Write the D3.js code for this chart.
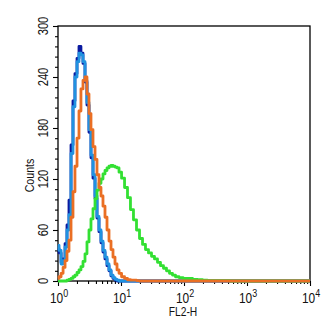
<!DOCTYPE html>
<html><head><meta charset="utf-8">
<script src="https://cdn.jsdelivr.net/npm/d3@7"></script>
<style>body{margin:0;background:#fff}svg{display:block}text{font-family:"Liberation Sans",Arial,sans-serif;fill:#111}</style>
</head><body>
<svg id="c" width="336" height="334"></svg>
<script>
// FL2-H channel values (bin positions)
const fl2 = [1.00,1.08,1.16,1.25,1.34,1.44,1.55,1.67,1.79,1.93,2.08,2.23,2.40,2.59,2.78,2.99,3.22,3.46,3.73,4.01,4.31,4.64,4.99,5.37,5.78,6.22,6.69,7.20,7.74,8.33,8.97,9.65,10.8,12.0,13.4,14.9,16.7,18.6,20.8,23.2,25.8,28.9,32.2,35.9,40.1,44.7,49.9,55.7,62.1,69.3,77.3,89.5,104,125,149,179,215,257,1100,10000];
const darkBlue  = [38,33,22,26,44,66,95,160,212,244,262,276,268,256,234,207,175,145,121,97,74,58,45,34,26,18,12,6,3,1,0,0,0,0,0,0,0,0,0,0,0,0,0,0,0,0,0,0,0,0,0,0,0,0,0,0,0,0,0,0];
const lightBlue = [42,36,20,24,40,60,78,150,205,240,258,268,266,258,236,210,178,148,125,100,76,60,47,36,28,20,13,7,4,2,1,0,0,0,0,0,0,0,0,0,0,0,0,0,0,0,0,0,0,0,0,0,0,0,0,0,0,0,0,0];
const orange    = [3,5,9,16,24,35,48,75,105,135,168,200,226,236,240,220,197,178,158,143,125,110,100,88,75,60,47,37,28,20,13,9,5,3,1.5,1,1,0.5,0,0,0,0,0,0,0,0,0,0,0,0,0,0,0,0,0,0,0,0,0,0];
const green     = [0,0,0,0,0,1,2,3,5,7,10,13,17,23,32,46,60,73,85,97,107,115,120,126,130,133,135,136,135,134,133,128,121,110,98,84,72,60,50,43,37,33,29,26,22,18,15,12,9,7,5,4,3,3,2,1.5,1,0.5,0,0];
const yTicks = [0,60,120,180,240,300];
const xTicks = [0,1,2,3,4];

const svg = d3.select("#c");
const L=58, R=310, T=26, B=281;
const x = d3.scaleLog().domain([1,10000]).range([L,R]);
const y = d3.scaleLinear().domain([0,300]).range([B,T]);

// frame
svg.append("rect").attr("x",L).attr("y",T).attr("width",R-L).attr("height",B-T)
  .attr("fill","none").attr("stroke","#000").attr("stroke-width",1.3);

// y axis ticks
const yAx = svg.append("g").attr("transform",`translate(${L},0)`);
yAx.call(d3.axisLeft(y).tickValues(d3.range(0,301,12)).tickSize(3).tickFormat(""));
yAx.select(".domain").remove();
yAx.selectAll(".tick").filter(d=>yTicks.includes(d)).select("line").attr("x2",-5);
yAx.selectAll("line").attr("stroke","#000").attr("stroke-width",1.1);
yTicks.forEach(v=>{
  svg.append("text").attr("transform",`translate(48,${y(v)}) rotate(-90) scale(0.8,1)`)
    .attr("text-anchor","middle").attr("font-size",14).text(v);
});

// x axis ticks
const minor=[]; for(let e=0;e<4;e++) for(let m=1;m<10;m++) minor.push(m*Math.pow(10,e)); minor.push(10000);
const xAx = svg.append("g").attr("transform",`translate(0,${B})`);
xAx.call(d3.axisBottom(x).tickValues(minor).tickSize(3).tickFormat(""));
xAx.select(".domain").remove();
xAx.selectAll(".tick").filter(d=>Math.abs(Math.log10(d)-Math.round(Math.log10(d)))<1e-9).select("line").attr("y2",5);
xAx.selectAll("line").attr("stroke","#000").attr("stroke-width",1.1);
xTicks.forEach(e=>{
  const t = svg.append("text").attr("transform",`translate(${x(Math.pow(10,e))+1},303) scale(0.85,1)`)
    .attr("text-anchor","middle").attr("font-size",14);
  t.append("tspan").text("10");
  t.append("tspan").attr("font-size",10.5).attr("dy",-6.5).text(e);
});

// axis titles
svg.append("text").attr("transform",`translate(${x(10)+62},316) scale(0.82,1)`)
  .attr("text-anchor","middle").attr("font-size",12.5).text("FL2-H");
svg.append("text").attr("transform",`translate(34,${(T+B)/2+22}) rotate(-90) scale(0.85,1)`)
  .attr("text-anchor","middle").attr("font-size",12.5).text("Counts");

// histograms
const line = d3.line().x(d=>x(d[0])).y(d=>y(d[1])).curve(d3.curveStep);
const g = svg.append("g");
function draw(vals,color,w){
  g.append("path").datum(fl2.map((f,i)=>[f,vals[i]])).attr("d",line)
   .attr("fill","none").attr("stroke",color).attr("stroke-width",w).attr("stroke-linejoin","round");
}
draw(darkBlue,"#0a1aa0",2.8);
draw(lightBlue,"#2092e0",2.8);
draw(green,"#33e033",2.8);
draw(orange,"#ea6f24",2.8);
</script>
</body></html>
